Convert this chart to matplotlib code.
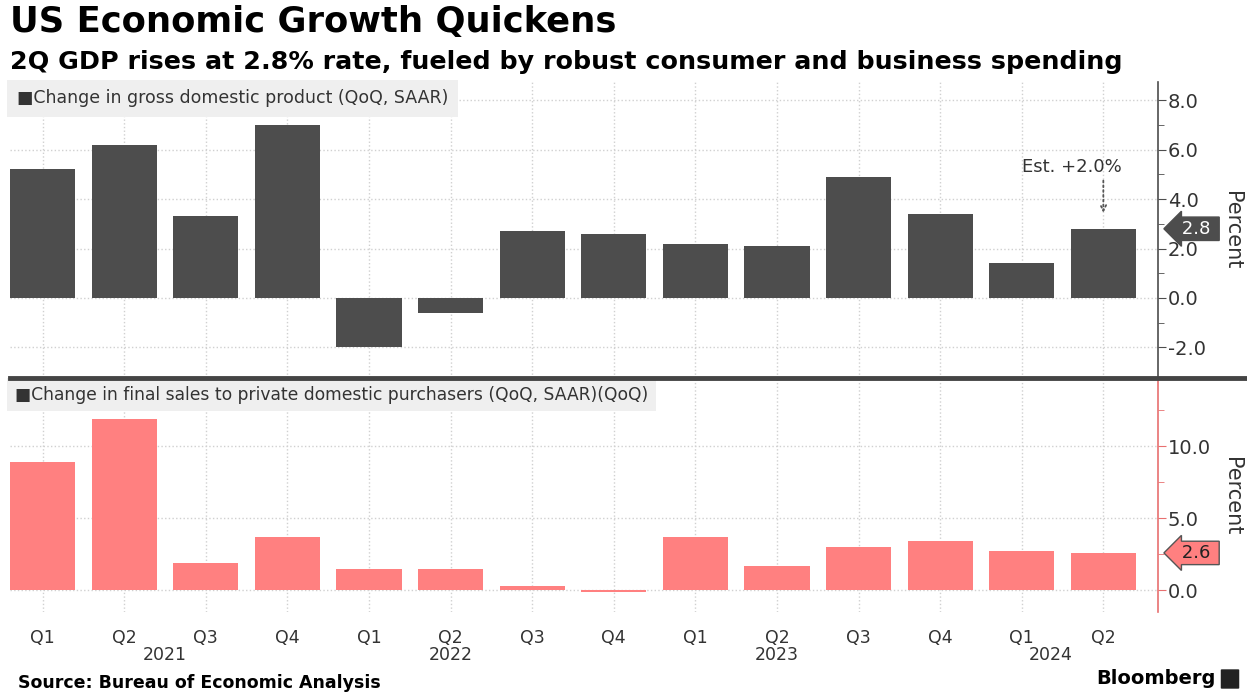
import matplotlib.pyplot as plt
import matplotlib.patches as mpatches
import numpy as np

quarters = ["Q1", "Q2", "Q3", "Q4", "Q1", "Q2", "Q3", "Q4",
            "Q1", "Q2", "Q3", "Q4", "Q1", "Q2"]
years = ["2021", "2022", "2023", "2024"]
year_pos = [1.5, 5.0, 9.0, 12.35]
gdp = [5.2, 6.2, 3.3, 7.0, -2.0, -0.6, 2.7, 2.6, 2.2, 2.1, 4.9, 3.4, 1.4, 2.8]
final_sales = [8.9, 11.9, 1.9, 3.7, 1.5, 1.5, 0.3, -0.1, 3.7, 1.7, 3.0, 3.4, 2.7, 2.6]
est_value = 2.0

DARK = "#4d4d4d"
PINK = "#ff8080"
GRID = "#d0d0d0"
W, H = 1247, 692

fig = plt.figure(figsize=(W / 100, H / 100), dpi=100)
fig.patch.set_facecolor("white")

def px_axes(left, top, right, bottom):
    return fig.add_axes([left / W, 1 - bottom / H, (right - left) / W, (bottom - top) / H])

ax1 = px_axes(10, 82, 1158, 378)
ax2 = px_axes(10, 380, 1158, 612)

x = np.arange(len(quarters))

def style(ax, color):
    for s in ["top", "left", "bottom"]:
        ax.spines[s].set_visible(False)
    ax.spines["right"].set_color(color)
    ax.spines["right"].set_linewidth(1.2)
    ax.yaxis.tick_right()
    ax.tick_params(axis="y", which="both", colors=color, labelcolor="#333333",
                   labelsize=14, length=6, pad=1)
    ax.tick_params(axis="y", which="minor", length=4)
    ax.tick_params(axis="x", length=0)
    ax.set_xlim(-0.4, 13.67)
    ax.set_xticks(x)
    ax.grid(axis="both", which="major", color=GRID, linestyle=":", linewidth=1)
    ax.set_axisbelow(True)
    ax.yaxis.set_label_position("right")
    ax.set_ylabel("Percent", rotation=270, fontsize=15, color="#333333", va="center")
    ax.yaxis.set_label_coords(1.0645, 0.5)

# top panel
ax1.bar(x, gdp, width=0.8, color=DARK, zorder=3)
style(ax1, DARK)
ax1.set_ylim(-3.24, 8.74)
ax1.set_yticks([-2, 0, 2, 4, 6, 8])
ax1.set_yticks([-1, 1, 3, 5, 7], minor=True)
ax1.set_yticklabels(["-2.0", "0.0", "2.0", "4.0", "6.0", "8.0"])
ax1.set_xticklabels([])

ax1.text(0.006, 0.975, "\u25a0Change in gross domestic product (QoQ, SAAR)",
         transform=ax1.transAxes, ha="left", va="top", fontsize=12.5, color="#333333",
         bbox=dict(boxstyle="square,pad=0.55", fc="#efefef", ec="none"), zorder=5)

ax1.text(12.62, 4.95, f"Est. +{est_value:.1f}%", ha="center", va="bottom",
         fontsize=13, color="#333333", zorder=6)
ax1.annotate("", xy=(13, 3.45), xytext=(13, 4.75),
             arrowprops=dict(arrowstyle="->", color="#555555", linestyle=":",
                             linewidth=1.3, shrinkA=0, shrinkB=0), zorder=6)

ax1.text(1.016, gdp[-1], f" {gdp[-1]:.1f} ", transform=ax1.get_yaxis_transform(),
         ha="left", va="center", fontsize=13, color="white",
         bbox=dict(boxstyle="larrow,pad=0.15", fc=DARK, ec=DARK), zorder=6)

# bottom panel
ax2.bar(x, final_sales, width=0.8, color=PINK, zorder=3)
style(ax2, "#e87070")
ax2.set_ylim(-1.5, 14.6)
ax2.set_yticks([0, 5, 10])
ax2.set_yticks([2.5, 7.5, 12.5], minor=True)
ax2.set_yticklabels(["0.0", "5.0", "10.0"])
ax2.set_xticklabels(quarters, fontsize=12.5, color="#333333")
ax2.tick_params(axis="x", pad=12)

ax2.text(0.004, 0.975, "\u25a0Change in final sales to private domestic purchasers (QoQ, SAAR)(QoQ)",
         transform=ax2.transAxes, ha="left", va="top", fontsize=12.3, color="#333333",
         bbox=dict(boxstyle="square,pad=0.45", fc="#efefef", ec="none"), zorder=5)

ax2.text(1.016, final_sales[-1], f" {final_sales[-1]:.1f} ", transform=ax2.get_yaxis_transform(),
         ha="left", va="center", fontsize=13, color="#222222",
         bbox=dict(boxstyle="larrow,pad=0.15", fc=PINK, ec="#555555"), zorder=6)

for yr, pos in zip(years, year_pos):
    ax2.text(pos, -0.185, yr, transform=ax2.get_xaxis_transform(), ha="center",
             va="center", fontsize=12.5, color="#333333")

# divider between panels
fig.add_artist(plt.Line2D([10 / W, 1], [1 - 378 / H] * 2, color="#444444", linewidth=3.5))

fig.text(10 / W, 1 - 22 / H, "US Economic Growth Quickens", fontsize=25.5, fontweight="bold",
         ha="left", va="center", color="black")
fig.text(10 / W, 1 - 62 / H, "2Q GDP rises at 2.8% rate, fueled by robust consumer and business spending",
         fontsize=18.3, fontweight="bold", ha="left", va="center", color="black")
fig.text(18 / W, 1 - 683 / H, "Source: Bureau of Economic Analysis", fontsize=12.5,
         fontweight="bold", ha="left", va="center", color="black")
fig.text(1216 / W, 1 - 678 / H, "Bloomberg", fontsize=14, fontweight="bold",
         ha="right", va="center", color="black")
fig.add_artist(mpatches.FancyBboxPatch((1222 / W, 1 - 688 / H), 16 / W, 18 / H,
                                       boxstyle="round,pad=0.001", fc="#222222", ec="none",
                                       transform=fig.transFigure))

fig.savefig("out.png", dpi=100)
